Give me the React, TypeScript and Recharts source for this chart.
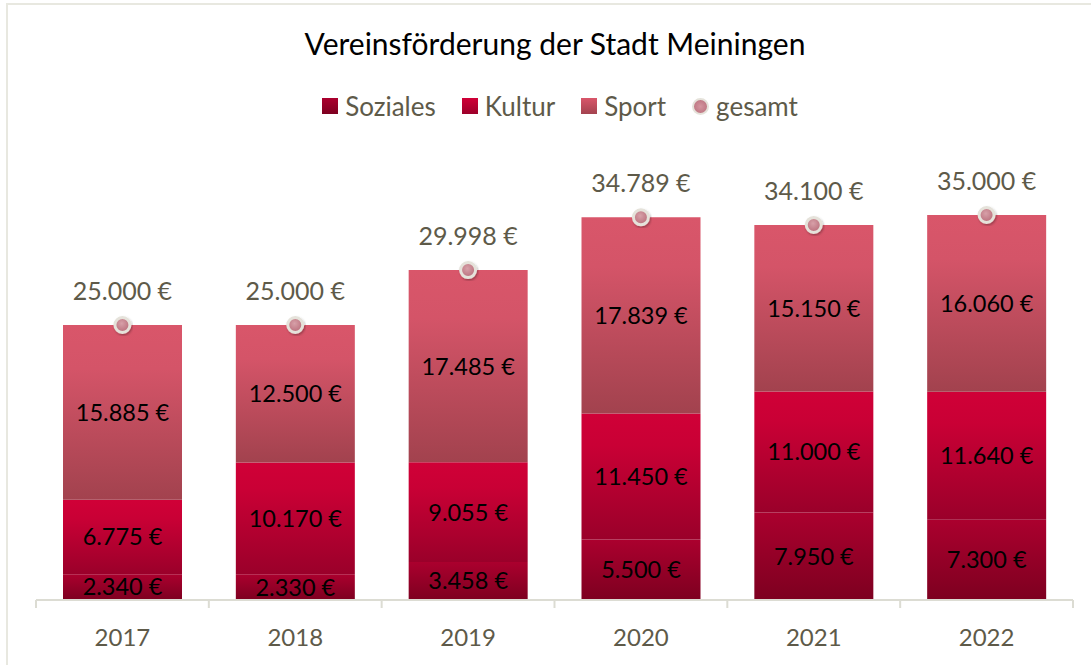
import { Bar, ComposedChart, LabelList, Line, XAxis, YAxis } from "recharts"

const years = ["2017", "2018", "2019", "2020", "2021", "2022"]
const soziales = [2340, 2330, 3458, 5500, 7950, 7300]
const kultur = [6775, 10170, 9055, 11450, 11000, 11640]
const sport = [15885, 12500, 17485, 17839, 15150, 16060]
const gesamt = [25000, 25000, 29998, 34789, 34100, 35000]

const data = years.map((year, i) => ({
  year,
  soziales: soziales[i],
  kultur: kultur[i],
  sport: sport[i],
  gesamt: gesamt[i],
}))

const FONT = "Lato, 'Open Sans', sans-serif"
const GREY = "#5e5a49"
const AXIS = "#dcdcd3"

const euro = (v: any) => String(v).replace(/\B(?=(\d{3})+(?!\d))/g, ".") + " €"

function TotalDot(props: any) {
  const { cx, cy } = props
  if (cx == null || cy == null) return null
  return (
    <circle cx={cx} cy={cy} r={7.5} fill="url(#gDot)" stroke="#e5e2da" strokeWidth={3} filter="url(#shadow)" />
  )
}

function TotalLabel(props: any) {
  const { x, y, value } = props
  return (
    <text x={x} y={y - 35} textAnchor="middle" dominantBaseline="central" fill={GREY} fontSize={25} fontFamily={FONT}>
      {euro(value)}
    </text>
  )
}

// year label plus the tick marks at the category boundaries
function YearTick(props: any) {
  const { x, y, payload, index } = props
  const half = payload && payload.offset ? payload.offset : 86.4
  const top = y - 8
  return (
    <g>
      <line x1={x - half} y1={top} x2={x - half} y2={top + 8} stroke={AXIS} strokeWidth={2} />
      {index === years.length - 1 && (
        <line x1={x + half} y1={top} x2={x + half} y2={top + 8} stroke={AXIS} strokeWidth={2} />
      )}
      <text x={x} y={top + 36} textAnchor="middle" dominantBaseline="central" fill={GREY} fontSize={24} fontFamily={FONT}>
        {payload.value}
      </text>
    </g>
  )
}

const legendItems = [
  { name: "Soziales", grad: "linear-gradient(#ab002e, #7d0020)", round: false },
  { name: "Kultur", grad: "linear-gradient(#d00037, #9c002a)", round: false },
  { name: "Sport", grad: "linear-gradient(#d9566a, #a3434f)", round: false },
  { name: "gesamt", grad: "radial-gradient(#d4959f, #b86d7a)", round: true },
]

export default function App() {
  return (
    <div style={{ position: "absolute", left: 0, top: 0, width: 1091, height: 665, overflow: "hidden", background: "#fff", fontFamily: FONT }}>
      <div style={{ position: "absolute", left: 6, top: 3, width: 1120, height: 700, border: "2px solid #e8e8e0", boxSizing: "border-box" }} />
      <div style={{ position: "absolute", left: 0, top: 25, width: 1110, textAlign: "center", fontSize: 30, color: "#000" }}>
        Vereinsförderung der Stadt Meiningen
      </div>
      <div style={{ position: "absolute", left: 0, top: 90, width: 1120, display: "flex", justifyContent: "center", alignItems: "center", gap: 26, fontSize: 26, color: GREY }}>
        {legendItems.map((it) => (
          <div key={it.name} style={{ display: "flex", alignItems: "center" }}>
            <span
              style={{
                display: "inline-block",
                width: it.round ? 13 : 16,
                height: it.round ? 13 : 16,
                borderRadius: it.round ? "50%" : 0,
                background: it.grad,
                border: it.round ? "2px solid #e5e2da" : "none",
                marginRight: 7,
              }}
            />
            <span>{it.name}</span>
          </div>
        ))}
      </div>
      <div style={{ position: "absolute", left: 0, top: 0 }}>
        <ComposedChart width={1091} height={665} data={data} margin={{ top: 160, right: 18, bottom: 35, left: 36 }}>
          <defs>
            <linearGradient id="gSoz" x1="0" y1="0" x2="0" y2="1">
              <stop offset="0%" stopColor="#ab002e" />
              <stop offset="100%" stopColor="#7d0020" />
            </linearGradient>
            <linearGradient id="gKul" x1="0" y1="0" x2="0" y2="1">
              <stop offset="0%" stopColor="#d00037" />
              <stop offset="25%" stopColor="#c90035" />
              <stop offset="100%" stopColor="#9a002a" />
            </linearGradient>
            <linearGradient id="gSpo" x1="0" y1="0" x2="0" y2="1">
              <stop offset="0%" stopColor="#d9566a" />
              <stop offset="25%" stopColor="#d45468" />
              <stop offset="100%" stopColor="#a2424e" />
            </linearGradient>
            <radialGradient id="gDot" cx="0.45" cy="0.4" r="0.6">
              <stop offset="0%" stopColor="#d7a0a8" />
              <stop offset="100%" stopColor="#b96e7b" />
            </radialGradient>
            <filter id="shadow" x="-20%" y="-20%" width="140%" height="140%">
              <feDropShadow dx="1" dy="1.5" stdDeviation="1.2" floodColor="#000" floodOpacity="0.3" />
            </filter>
          </defs>
          <XAxis
            dataKey="year"
            axisLine={{ stroke: AXIS, strokeWidth: 2 }}
            tickLine={false}
            tickSize={8}
            tickMargin={0}
            height={30}
            tick={<YearTick />}
            interval={0}
          />
          <YAxis hide domain={[0, 40000]} />
          <Bar dataKey="soziales" stackId="a" barSize={119} fill="url(#gSoz)" isAnimationActive={false}>
            <LabelList dataKey="soziales" position="center" formatter={euro} fill="#000" fontSize={23.5} fontFamily={FONT} />
          </Bar>
          <Bar dataKey="kultur" stackId="a" barSize={119} fill="url(#gKul)" isAnimationActive={false}>
            <LabelList dataKey="kultur" position="center" formatter={euro} fill="#000" fontSize={23.5} fontFamily={FONT} />
          </Bar>
          <Bar dataKey="sport" stackId="a" barSize={119} fill="url(#gSpo)" isAnimationActive={false}>
            <LabelList dataKey="sport" position="center" formatter={euro} fill="#000" fontSize={23.5} fontFamily={FONT} />
          </Bar>
          <Line
            dataKey="gesamt"
            stroke="none"
            dot={<TotalDot />}
            activeDot={false}
            isAnimationActive={false}
          >
            <LabelList dataKey="gesamt" content={<TotalLabel />} />
          </Line>
        </ComposedChart>
      </div>
    </div>
  )
}
